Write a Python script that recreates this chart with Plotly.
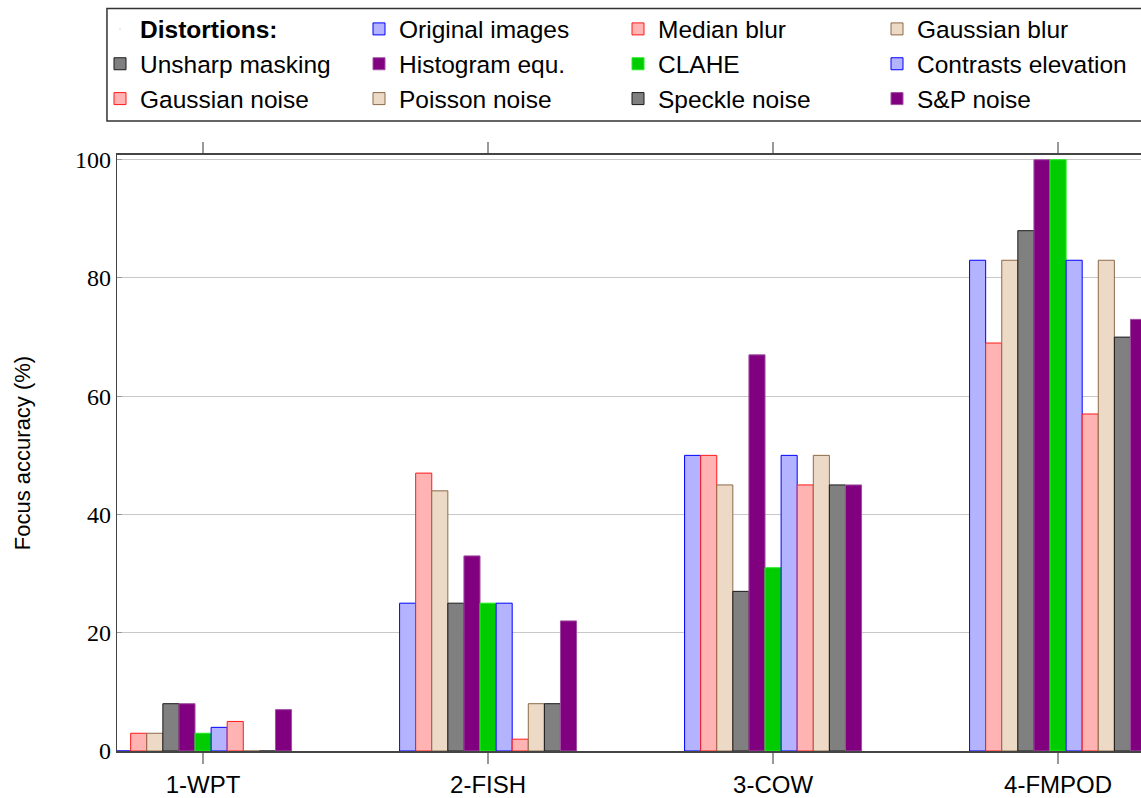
import plotly.graph_objects as go

# Datasets on the horizontal axis
datasets = ["1-WPT", "2-FISH", "3-COW", "4-FMPOD"]

# Focus accuracy (%) per distortion, one value per dataset
original_images = [0, 25, 50, 83]
median_blur = [3, 47, 50, 69]
gaussian_blur = [3, 44, 45, 83]
unsharp_masking = [8, 25, 27, 88]
histogram_equ = [8, 33, 67, 100]
clahe = [3, 25, 31, 100]
contrasts_elevation = [4, 25, 50, 83]
gaussian_noise = [5, 2, 45, 57]
poisson_noise = [0, 8, 50, 83]
speckle_noise = [0, 8, 45, 70]
sp_noise = [7, 22, 45, 73]

series_names = [
    "Original images", "Median blur", "Gaussian blur", "Unsharp masking",
    "Histogram equ.", "CLAHE", "Contrasts elevation", "Gaussian noise",
    "Poisson noise", "Speckle noise", "S&P noise",
]
series_values = [
    original_images, median_blur, gaussian_blur, unsharp_masking,
    histogram_equ, clahe, contrasts_elevation, gaussian_noise,
    poisson_noise, speckle_noise, sp_noise,
]

# (fill, edge) pairs in the pgfplots-like palette
BLUE = ("#b3b3ff", "#0000ff")
RED = ("#ffb3b3", "#ff1a1a")
BROWN = ("#ecd9c6", "#8c6a48")
GRAY = ("#808080", "#1a1a1a")
PURPLE = ("#800080", "#a050a0")
GREEN = ("#00cc00", "#22ee22")
series_styles = [BLUE, RED, BROWN, GRAY, PURPLE, GREEN, BLUE, RED, BROWN, GRAY, PURPLE]

SANS = "Liberation Sans, Arial, sans-serif"
SERIF = "Liberation Serif, Times New Roman, serif"

fig = go.Figure()

# Legend heading entry without a visible symbol
fig.add_trace(go.Scatter(
    x=[None], y=[None], mode="markers", name="<b>Distortions:</b>",
    marker=dict(opacity=0, size=1), hoverinfo="skip",
))

for name, vals, (fill, edge) in zip(series_names, series_values, series_styles):
    fig.add_trace(go.Bar(
        x=datasets, y=vals, name=name,
        marker=dict(color=fill, line=dict(color=edge, width=1)),
    ))

fig.update_layout(
    width=1141, height=798,
    margin=dict(l=117, r=0, t=155, b=45),
    paper_bgcolor="white", plot_bgcolor="white",
    barmode="group", bargap=0.379, bargroupgap=0,
    font=dict(family=SANS, color="black"),
    legend=dict(
        orientation="h", traceorder="normal",
        x=-0.0166, xanchor="left", y=1.2492, yanchor="top",
        entrywidth=214, entrywidthmode="pixels",
        font=dict(family=SANS, size=24.5, color="black"),
        borderwidth=0, bgcolor="rgba(0,0,0,0)",
        itemwidth=30,
    ),
    showlegend=True,
    # frame around the legend, running off the right edge
    shapes=[dict(
        type="rect", xref="paper", yref="paper",
        x0=-0.0098, x1=1.01, y0=1.0569, y1=1.2458,
        line=dict(color="#333333", width=1.5), fillcolor="rgba(0,0,0,0)", layer="below",
    )],
)

fig.update_xaxes(
    type="category", range=[-0.302, 3.291],
    showline=True, linecolor="#444444", linewidth=1.5, mirror="ticks",
    ticks="outside", ticklen=11, tickcolor="#999999", tickwidth=1.5,
    tickfont=dict(family=SANS, size=24, color="black"),
    showgrid=False,
)

fig.update_yaxes(
    range=[0, 100.8], tickvals=[0, 20, 40, 60, 80, 100],
    showline=True, linecolor="#444444", linewidth=1.2, mirror=False,
    ticks="inside", ticklen=5, tickcolor="#999999",
    tickfont=dict(family=SERIF, size=24, color="black"),
    showgrid=True, gridcolor="#c8c8c8", gridwidth=1.2, zeroline=False,
    title=dict(text="Focus accuracy (%)", font=dict(family=SANS, size=22, color="black"), standoff=38),
)

fig.write_html("out.html")
